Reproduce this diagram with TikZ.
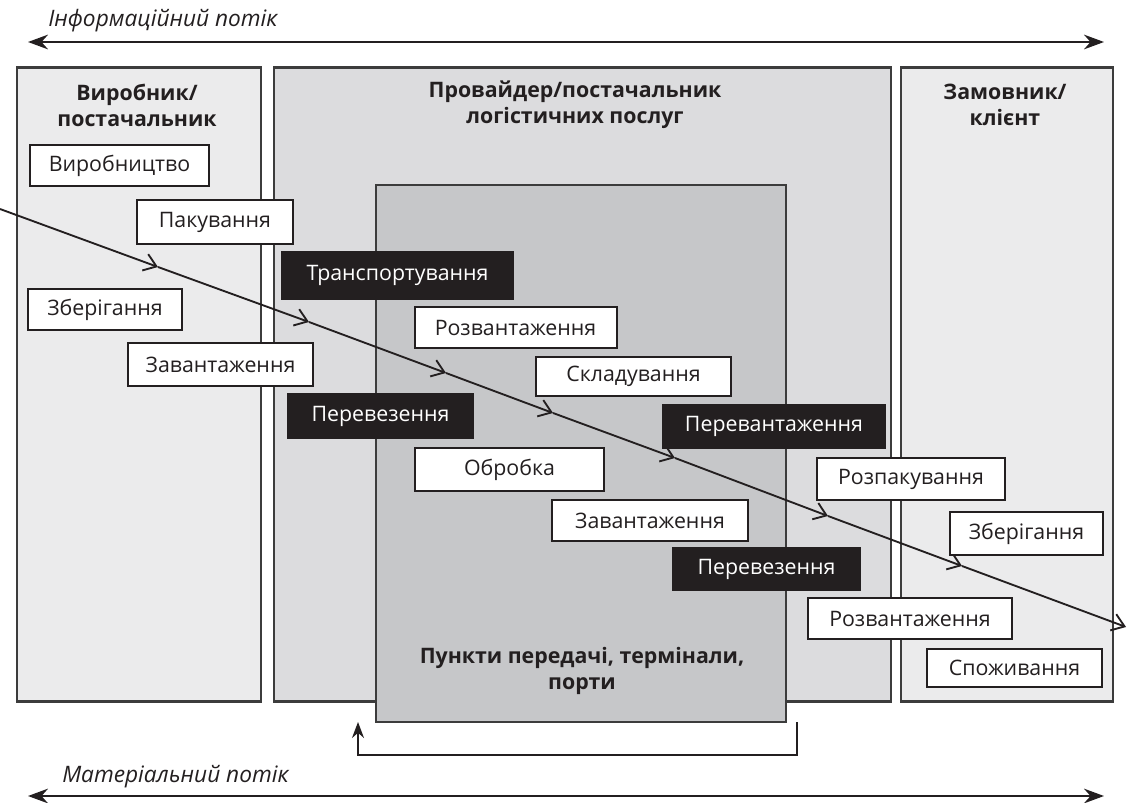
\documentclass[tikz,border=0pt]{standalone}
\usepackage{fontspec}
\setmainfont{Open Sans}
\usetikzlibrary{arrows.meta}
\definecolor{ink}{HTML}{231F20}
\definecolor{panelA}{HTML}{EBEBEC}
\definecolor{panelB}{HTML}{DCDCDE}
\definecolor{panelC}{HTML}{C6C7C9}
\definecolor{frame}{HTML}{3C3C3C}
\tikzset{
  panel/.style={draw=frame, line width=1.6pt, inner sep=0pt},
  wbox/.style={draw=ink, line width=1.5pt, fill=white, inner sep=0pt, text=ink,
    font=\fontsize{16}{19}\selectfont},
  bbox/.style={draw=ink, line width=1.5pt, fill=ink, inner sep=0pt, text=white,
    font=\fontsize{16}{19}\selectfont},
  head/.style={align=center, text=ink, font=\bfseries\fontsize{16}{19.5}\selectfont},
  flowlbl/.style={text=ink, font=\itshape\fontsize{17}{20}\selectfont, anchor=west, inner sep=0pt},
  flow/.style={draw=ink, line width=1.5pt, {Stealth[length=15pt,width=11pt]}-{Stealth[length=15pt,width=11pt]}},
  seg/.style={draw=ink, line width=1.4pt, -{Straight Barb[length=9pt,width=13pt]}},
}
\begin{document}
\begin{tikzpicture}[x=0.75pt,y=-0.75pt]
\useasboundingbox (0,0) rectangle (1128,803);
% panels
\node[panel, fill=panelA, minimum width=183pt, minimum height=475.5pt] (left) at (139,384.5) {};
\node[panel, fill=panelB, minimum width=462.75pt, minimum height=475.5pt] (mid) at (582.5,384.5) {};
\node[panel, fill=panelA, minimum width=159pt, minimum height=475.5pt] (right) at (1007,384.5) {};
\node[panel, fill=panelC, minimum width=307.5pt, minimum height=402.75pt] (inner) at (581,453.5) {};
% headers
\node[head] (hleft) at (137,105) {Виробник/\\постачальник};
\node[head] (hmid) at (575,105) {Провайдер/постачальник\\логістичних послуг};
\node[head] (hright) at (1005,105) {Замовник/\\клієнт};
\node[head] (hinner) at (582,671) {Пункти передачі, термінали,\\порти};
% flows
\coordinate (it1) at (28,42);
\coordinate (it2) at (1104,42);
\draw[flow] (it1) -- (it2);
\node[flowlbl] (itl) at (48,21) {Інформаційний потік};
\coordinate (mt1) at (28,796);
\coordinate (mt2) at (1104,796);
\draw[flow] (mt1) -- (mt2);
\node[flowlbl] (mtl) at (62,777) {Матеріальний потік};
% return bracket
\coordinate (r1) at (797,722);
\coordinate (r2) at (797,755);
\coordinate (r3) at (358,755);
\coordinate (r4) at (358,722);
\draw[draw=ink, line width=1.2pt, -{Stealth[length=12pt,width=9pt]}] (r1) -- (r2) -- (r3) -- (r4);
% diagonal process line
\coordinate (p0) at (0,209);
\coordinate (p1) at (158,267);
\coordinate (p2) at (309,322);
\coordinate (p3) at (446,373);
\coordinate (p4) at (553,413);
\coordinate (p5) at (675,458);
\coordinate (p6) at (828,516);
\coordinate (p7) at (962,566);
\coordinate (p8) at (1126,627);
\draw[seg] (p0) -- (p1);
\draw[seg] (p1) -- (p2);
\draw[seg] (p2) -- (p3);
\draw[seg] (p3) -- (p4);
\draw[seg] (p4) -- (p5);
\draw[seg] (p5) -- (p6);
\draw[seg] (p6) -- (p7);
\draw[seg] (p7) -- (p8);
% boxes
\node[wbox, minimum width=134.25pt, minimum height=30.75pt] (b1) at (119.5,165.5) {Виробництво};
\node[wbox, minimum width=117pt, minimum height=33pt] (b2) at (215,222) {Пакування};
\node[wbox, minimum width=115.5pt, minimum height=30.75pt] (b3) at (105,309.5) {Зберігання};
\node[wbox, minimum width=138.75pt, minimum height=32.25pt] (b4) at (220.5,364.5) {Завантаження};
\node[bbox, minimum width=173.25pt, minimum height=35pt] (b5) at (397.5,275.5) {Транспортування};
\node[wbox, minimum width=151.5pt, minimum height=30.75pt] (b6) at (515.5,327.5) {Розвантаження};
\node[wbox, minimum width=146.25pt, minimum height=29.25pt] (b7) at (633.5,376.5) {Складування};
\node[bbox, minimum width=138.75pt, minimum height=33pt] (b8) at (380.5,416) {Перевезення};
\node[bbox, minimum width=166.5pt, minimum height=32.25pt] (b9) at (774,426.5) {Перевантаження};
\node[wbox, minimum width=141.75pt, minimum height=32.25pt] (b10) at (509.5,469.5) {Обробка};
\node[wbox, minimum width=141pt, minimum height=31.5pt] (b11) at (911,479) {Розпакування};
\node[wbox, minimum width=147pt, minimum height=30.75pt] (b12) at (650,520.5) {Завантаження};
\node[wbox, minimum width=114.75pt, minimum height=32.25pt] (b13) at (1026.5,533.5) {Зберігання};
\node[bbox, minimum width=140.25pt, minimum height=31.5pt] (b14) at (766.5,569) {Перевезення};
\node[wbox, minimum width=153pt, minimum height=30.75pt] (b15) at (910,618.5) {Розвантаження};
\node[wbox, minimum width=131.25pt, minimum height=28.5pt] (b16) at (1014.5,668) {Споживання};
\end{tikzpicture}
\end{document}
